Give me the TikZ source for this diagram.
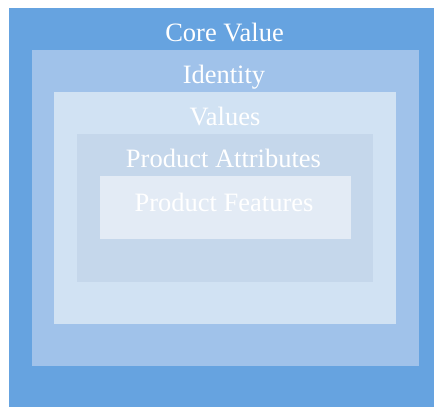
\documentclass[tikz,border=0pt]{standalone}
\usepackage{fontspec}
\setmainfont{Liberation Serif}
\usetikzlibrary{positioning}

\definecolor{corecol}{RGB}{102,163,224}
\definecolor{identcol}{RGB}{160,194,234}
\definecolor{valuecol}{RGB}{209,226,243}
\definecolor{attrcol}{RGB}{197,215,235}
\definecolor{featcol}{RGB}{227,235,245}

\begin{document}
\begin{tikzpicture}
[x=1pt, y=1pt,
% STYLES
% The layer style is used to draw each nested box
layer/.style={rectangle, draw=none, inner sep=0pt, outer sep=0pt},
% The caption style is used to write the name of each layer
caption/.style={anchor=base, text=white, inner sep=0pt, font=\fontsize{26.5}{26.5}\selectfont}]

\useasboundingbox (0,0) rectangle (434,407);

% Draw layers
\coordinate (centre) at (225,199);
\node [layer, fill=corecol, minimum width=425, minimum height=399] (core) at (221.5,199.5) {};
\node [layer, fill=identcol, minimum width=387, minimum height=316] (identity) at (centre) {};
\node [layer, fill=valuecol, minimum width=342, minimum height=232] (values) at (centre) {};
\node [layer, fill=attrcol, minimum width=296, minimum height=148] (attributes) at (centre) {};
\node [layer, fill=featcol, minimum width=251, minimum height=63] (features) at (centre) {};

% CAPTIONS
\node [caption] (core-name) at ([xshift=3,yshift=-34]core.north) {Core Value};
\node [caption] (identity-name) at ([xshift=-1,yshift=-34]identity.north) {Identity};
\node [caption] (values-name) at ([yshift=-34]values.north) {Values};
\node [caption] (attributes-name) at ([xshift=-1.5,yshift=-34]attributes.north) {Product Attributes};
\node [caption] (features-name) at ([xshift=-1,yshift=-35]features.north) {Product Features};

\end{tikzpicture}
\end{document}
